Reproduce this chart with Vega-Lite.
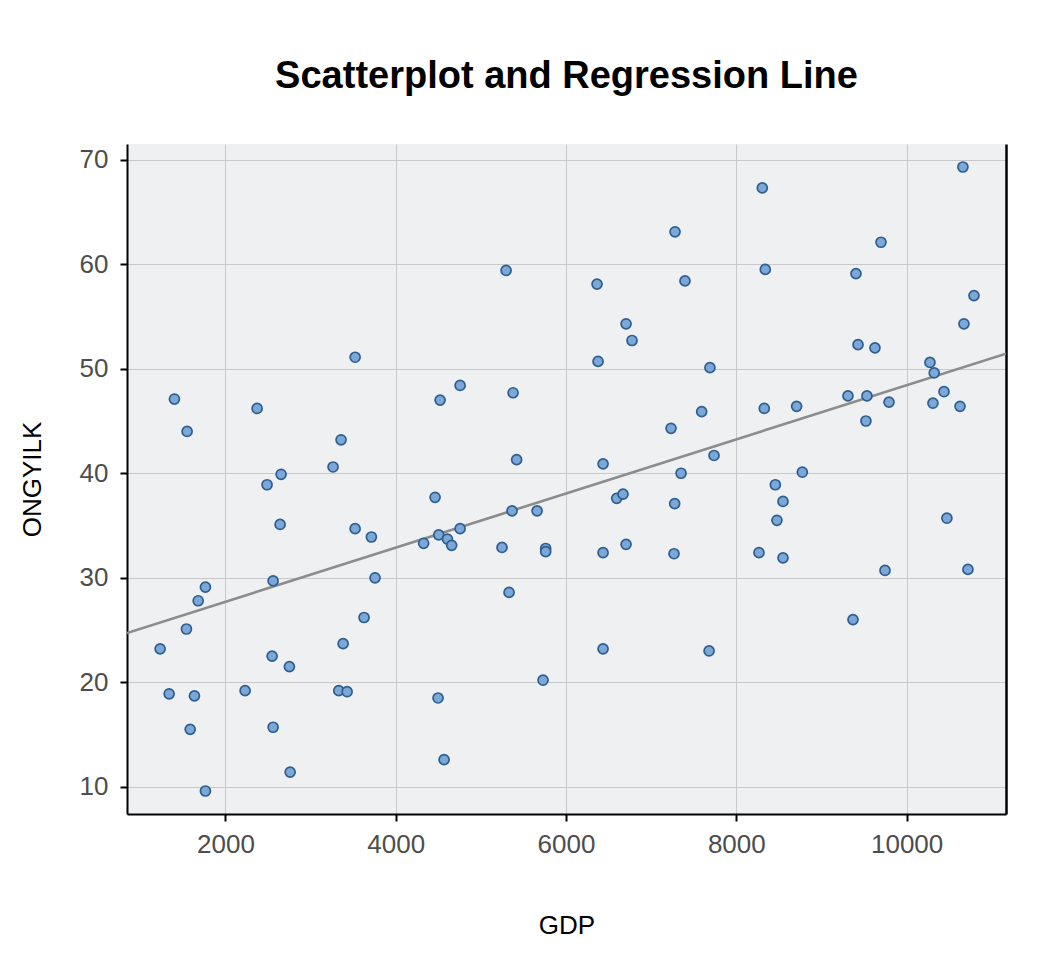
{
  "$schema": "https://vega.github.io/schema/vega-lite/v6.json",
  "autosize": "none",
  "padding": {"left": 127, "top": 144, "right": 50, "bottom": 146},
  "width": 879,
  "height": 670,
  "background": "white",
  "title": {"text": "Scatterplot and Regression Line", "font": "Liberation Sans", "fontSize": 38, "fontWeight": "bold", "color": "black", "anchor": "middle", "offset": 48},
  "data": {"values": [
    {"GDP": 3523, "ONGYILK": 51.1}, {"GDP": 1401, "ONGYILK": 47.1}, {"GDP": 2372, "ONGYILK": 46.2}, {"GDP": 1550, "ONGYILK": 44.0},
    {"GDP": 3358, "ONGYILK": 43.2}, {"GDP": 3264, "ONGYILK": 40.6}, {"GDP": 2654, "ONGYILK": 39.9}, {"GDP": 2489, "ONGYILK": 38.9},
    {"GDP": 2642, "ONGYILK": 35.1}, {"GDP": 3523, "ONGYILK": 34.7}, {"GDP": 3714, "ONGYILK": 33.9}, {"GDP": 3757, "ONGYILK": 30.0},
    {"GDP": 2560, "ONGYILK": 29.7}, {"GDP": 1765, "ONGYILK": 29.1}, {"GDP": 1680, "ONGYILK": 27.8}, {"GDP": 3628, "ONGYILK": 26.2},
    {"GDP": 1542, "ONGYILK": 25.1}, {"GDP": 1233, "ONGYILK": 23.2}, {"GDP": 3382, "ONGYILK": 23.7}, {"GDP": 2548, "ONGYILK": 22.5},
    {"GDP": 2751, "ONGYILK": 21.5}, {"GDP": 1339, "ONGYILK": 18.9}, {"GDP": 1636, "ONGYILK": 18.7}, {"GDP": 2231, "ONGYILK": 19.2},
    {"GDP": 3331, "ONGYILK": 19.2}, {"GDP": 3429, "ONGYILK": 19.1}, {"GDP": 1586, "ONGYILK": 15.5}, {"GDP": 2560, "ONGYILK": 15.7},
    {"GDP": 2760, "ONGYILK": 11.4}, {"GDP": 1765, "ONGYILK": 9.6}, {"GDP": 7280, "ONGYILK": 63.1}, {"GDP": 5296, "ONGYILK": 59.4},
    {"GDP": 6364, "ONGYILK": 58.1}, {"GDP": 7397, "ONGYILK": 58.4}, {"GDP": 6705, "ONGYILK": 54.3}, {"GDP": 6775, "ONGYILK": 52.7},
    {"GDP": 6376, "ONGYILK": 50.7}, {"GDP": 7690, "ONGYILK": 50.1}, {"GDP": 4756, "ONGYILK": 48.4}, {"GDP": 4521, "ONGYILK": 47.0},
    {"GDP": 5378, "ONGYILK": 47.7}, {"GDP": 7593, "ONGYILK": 45.9}, {"GDP": 7233, "ONGYILK": 44.3}, {"GDP": 5420, "ONGYILK": 41.3},
    {"GDP": 6435, "ONGYILK": 40.9}, {"GDP": 7351, "ONGYILK": 40.0}, {"GDP": 4462, "ONGYILK": 37.7}, {"GDP": 6595, "ONGYILK": 37.6},
    {"GDP": 6669, "ONGYILK": 38.0}, {"GDP": 7276, "ONGYILK": 37.1}, {"GDP": 5366, "ONGYILK": 36.4}, {"GDP": 5660, "ONGYILK": 36.4},
    {"GDP": 4756, "ONGYILK": 34.7}, {"GDP": 4505, "ONGYILK": 34.1}, {"GDP": 4607, "ONGYILK": 33.7}, {"GDP": 4657, "ONGYILK": 33.1},
    {"GDP": 4328, "ONGYILK": 33.3}, {"GDP": 5248, "ONGYILK": 32.9}, {"GDP": 5761, "ONGYILK": 32.8}, {"GDP": 5761, "ONGYILK": 32.5},
    {"GDP": 6435, "ONGYILK": 32.4}, {"GDP": 6705, "ONGYILK": 33.2}, {"GDP": 7268, "ONGYILK": 32.3}, {"GDP": 5331, "ONGYILK": 28.6},
    {"GDP": 6435, "ONGYILK": 23.2}, {"GDP": 7680, "ONGYILK": 23.0}, {"GDP": 5730, "ONGYILK": 20.2}, {"GDP": 4497, "ONGYILK": 18.5},
    {"GDP": 4568, "ONGYILK": 12.6}, {"GDP": 10661, "ONGYILK": 69.3}, {"GDP": 8305, "ONGYILK": 67.3}, {"GDP": 9699, "ONGYILK": 62.1},
    {"GDP": 8340, "ONGYILK": 59.5}, {"GDP": 9405, "ONGYILK": 59.1}, {"GDP": 10791, "ONGYILK": 57.0}, {"GDP": 10673, "ONGYILK": 54.3},
    {"GDP": 9429, "ONGYILK": 52.3}, {"GDP": 9628, "ONGYILK": 52.0}, {"GDP": 10274, "ONGYILK": 50.6}, {"GDP": 10324, "ONGYILK": 49.6},
    {"GDP": 8328, "ONGYILK": 46.2}, {"GDP": 8708, "ONGYILK": 46.4}, {"GDP": 9311, "ONGYILK": 47.4}, {"GDP": 9534, "ONGYILK": 47.4},
    {"GDP": 9793, "ONGYILK": 46.8}, {"GDP": 10309, "ONGYILK": 46.7}, {"GDP": 10439, "ONGYILK": 47.8}, {"GDP": 10627, "ONGYILK": 46.4},
    {"GDP": 9522, "ONGYILK": 45.0}, {"GDP": 7738, "ONGYILK": 41.7}, {"GDP": 8775, "ONGYILK": 40.1}, {"GDP": 8458, "ONGYILK": 38.9},
    {"GDP": 8548, "ONGYILK": 37.3}, {"GDP": 8477, "ONGYILK": 35.5}, {"GDP": 8266, "ONGYILK": 32.4}, {"GDP": 8548, "ONGYILK": 31.9},
    {"GDP": 9746, "ONGYILK": 30.7}, {"GDP": 10720, "ONGYILK": 30.8}, {"GDP": 10473, "ONGYILK": 35.7}, {"GDP": 9370, "ONGYILK": 26.0}
  ]},
  "config": {
    "view": {"fill": "#EEF0F2", "stroke": null},
    "axis": {
      "grid": true, "gridColor": "#C8C8C8", "gridWidth": 1,
      "domainColor": "black", "domainWidth": 2,
      "tickColor": "black", "tickWidth": 2, "tickSize": 7,
      "labelFont": "Liberation Sans", "labelFontSize": 26, "labelColor": "#4D4D4D",
      "titleFont": "Liberation Sans", "titleFontSize": 26, "titleColor": "black", "titleFontWeight": "normal"
    }
  },
  "resolve": {"axis": {"y": "independent"}},
  "layer": [
    {
      "mark": {"type": "point", "shape": "circle", "filled": true, "size": 100, "fill": "#7BA7D9", "stroke": "#2E5E8E", "strokeWidth": 1.7, "opacity": 0},
      "encoding": {
        "x": {"field": "GDP", "type": "quantitative", "scale": {"domain": [844, 11167], "zero": false, "nice": false},
              "axis": {"values": [2000, 4000, 6000, 8000, 10000], "format": "d", "labelPadding": 10, "title": "GDP", "titlePadding": 55}},
        "y": {"field": "ONGYILK", "type": "quantitative", "scale": {"domain": [7.4, 71.5], "zero": false, "nice": false},
              "axis": {"orient": "left", "grid": true, "values": [10, 20, 30, 40, 50, 60, 70], "labelPadding": 12, "title": "ONGYILK", "titlePadding": 34}}
      }
    },
    {
      "transform": [{"regression": "ONGYILK", "on": "GDP", "extent": [844, 11167]}],
      "mark": {"type": "line", "color": "#8C8C8C", "strokeWidth": 2.6, "clip": true},
      "encoding": {
        "x": {"field": "GDP", "type": "quantitative"},
        "y": {"field": "ONGYILK", "type": "quantitative",
              "axis": {"orient": "right", "labels": false, "ticks": false, "grid": false, "title": null, "domainColor": "black", "domainWidth": 2.5}}
      }
    },
    {
      "mark": {"type": "point", "shape": "circle", "filled": true, "size": 100, "fill": "#7BA7D9", "stroke": "#2E5E8E", "strokeWidth": 1.7, "opacity": 1},
      "encoding": {
        "x": {"field": "GDP", "type": "quantitative"},
        "y": {"field": "ONGYILK", "type": "quantitative", "axis": null}
      }
    }
  ]
}
